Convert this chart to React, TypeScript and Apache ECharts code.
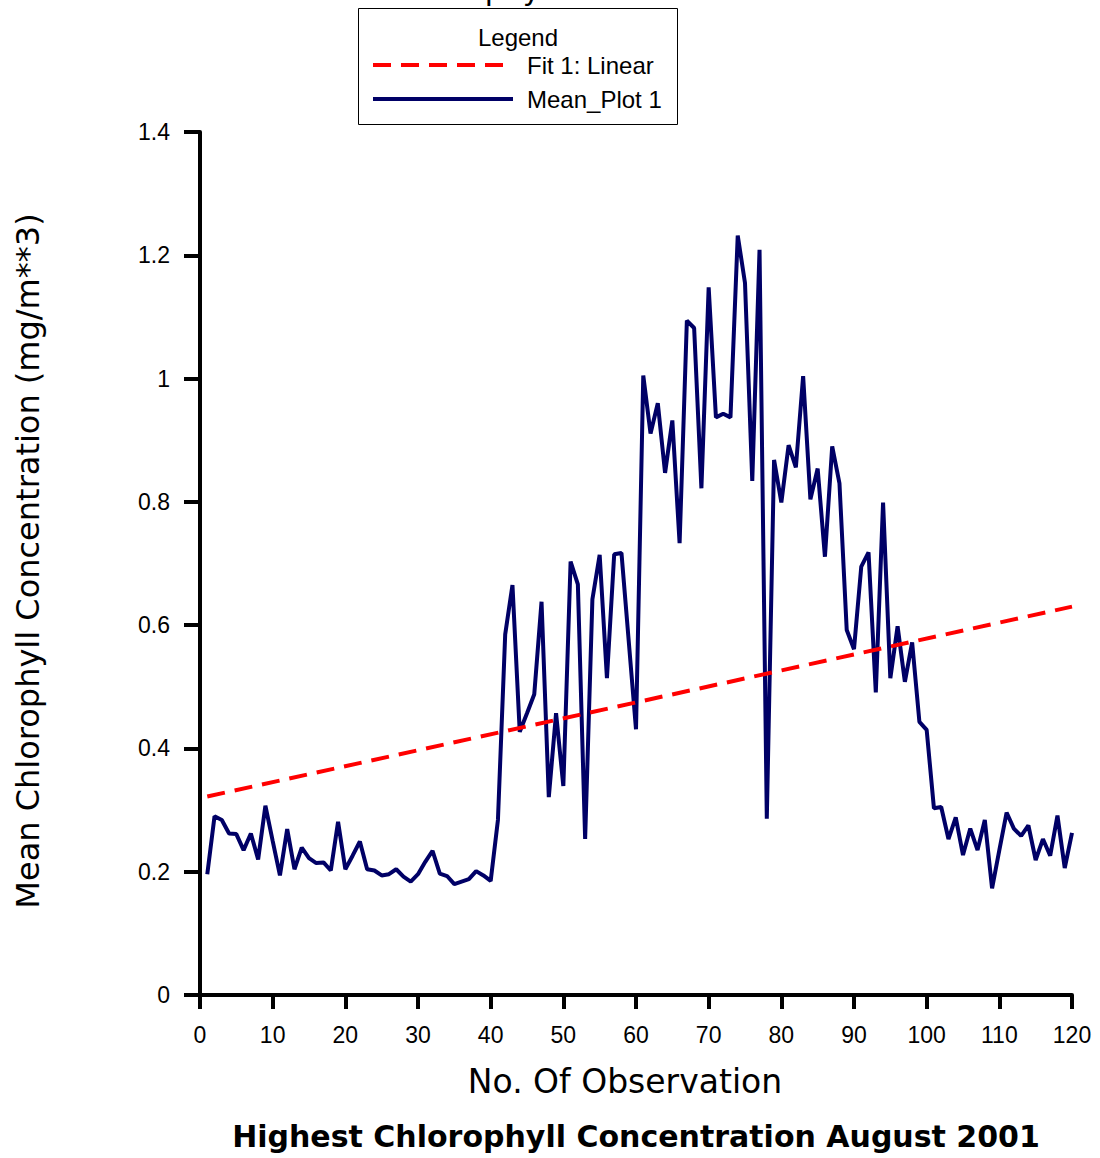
import React, { useEffect, useRef } from "react";
import * as echarts from "echarts";

// Observation numbers (1..120) along the x axis
const observations: number[] = Array.from({ length: 120 }, (_, i) => i + 1);

// Mean chlorophyll concentration (mg/m**3) per observation
const meanChl: number[] = [
  0.196, 0.290, 0.284, 0.262, 0.261, 0.235, 0.262, 0.220, 0.307, 0.250,
  0.194, 0.269, 0.204, 0.239, 0.222, 0.214, 0.215, 0.202, 0.281, 0.204,
  0.226, 0.249, 0.204, 0.202, 0.194, 0.196, 0.204, 0.192, 0.184, 0.196,
  0.216, 0.234, 0.197, 0.193, 0.180, 0.184, 0.188, 0.201, 0.194, 0.185,
  0.284, 0.585, 0.665, 0.427, 0.457, 0.488, 0.638, 0.321, 0.457, 0.339,
  0.703, 0.666, 0.253, 0.642, 0.714, 0.514, 0.715, 0.717, 0.574, 0.431,
  1.005, 0.911, 0.960, 0.847, 0.932, 0.733, 1.094, 1.082, 0.822, 1.148,
  0.937, 0.943, 0.937, 1.232, 1.155, 0.834, 1.209, 0.286, 0.868, 0.799,
  0.892, 0.856, 1.004, 0.804, 0.854, 0.711, 0.890, 0.830, 0.592, 0.561,
  0.695, 0.718, 0.491, 0.799, 0.514, 0.598, 0.508, 0.572, 0.443, 0.430,
  0.303, 0.305, 0.253, 0.288, 0.227, 0.270, 0.235, 0.284, 0.173, 0.235,
  0.296, 0.270, 0.258, 0.275, 0.219, 0.253, 0.226, 0.291, 0.206, 0.263,
];

// Linear fit end points
const fitX: number[] = [1, 120];
const fitY: number[] = [0.322, 0.630];

const legendTitle = "Legend";
const fitName = "Fit 1: Linear";
const meanName = "Mean_Plot 1";
const xTitle = "No. Of Observation";
const yTitle = "Mean Chlorophyll Concentration (mg/m**3)";
const caption = "Highest Chlorophyll Concentration August 2001";
const topTitle = "Chlorophyll";

const NAVY = "#000066";
const RED = "#ff0000";
const SANS = "'Liberation Sans', Arial, sans-serif";
const TITLE_FONT = "'DejaVu Sans', Verdana, sans-serif";

export default function App() {
  const ref = useRef<HTMLDivElement>(null);

  useEffect(() => {
    if (!ref.current) return;
    const chart = echarts.init(ref.current, null, { renderer: "svg" });

    const axisCommon = {
      axisLine: { show: true, onZero: false, lineStyle: { color: "#000", width: 4 } },
      axisTick: { show: true, inside: false, lineStyle: { color: "#000", width: 4 } },
      splitLine: { show: false },
    };

    chart.setOption({
      animation: false,
      backgroundColor: "#fff",
      grid: { left: 200, top: 132, width: 872, height: 863 },
      xAxis: {
        type: "value",
        min: 0,
        max: 120,
        interval: 10,
        ...axisCommon,
        axisTick: { ...axisCommon.axisTick, length: 14 },
        axisLabel: { margin: 28, fontSize: 23, color: "#000", fontFamily: SANS },
      },
      yAxis: {
        type: "value",
        min: 0,
        max: 1.4,
        interval: 0.2,
        ...axisCommon,
        axisTick: { ...axisCommon.axisTick, length: 16 },
        axisLabel: { margin: 30, fontSize: 23, color: "#000", fontFamily: SANS },
      },
      series: [
        {
          name: meanName,
          type: "line",
          data: observations.map((x, i) => [x, meanChl[i]]),
          showSymbol: false,
          lineStyle: { color: NAVY, width: 4 },
          z: 2,
        },
        {
          name: fitName,
          type: "line",
          data: fitX.map((x, i) => [x, fitY[i]]),
          showSymbol: false,
          lineStyle: { color: RED, width: 4, type: [18, 10] },
          z: 3,
        },
      ],
      graphic: [
        {
          type: "text",
          x: 388,
          y: -11,
          style: {
            text: topTitle,
            fontSize: 30,
            fontFamily: TITLE_FONT,
            fill: "#000",
            align: "left",
            verticalAlign: "middle",
          },
        },
        {
          type: "rect",
          shape: { x: 358.5, y: 8.5, width: 319, height: 116 },
          style: { fill: "#fff", stroke: "#000", lineWidth: 1 },
        },
        {
          type: "text",
          x: 518,
          y: 37,
          style: {
            text: legendTitle,
            fontSize: 24,
            fontFamily: SANS,
            fill: "#000",
            align: "center",
            verticalAlign: "middle",
          },
        },
        {
          type: "line",
          shape: { x1: 373, y1: 65, x2: 507, y2: 65 },
          style: { stroke: RED, lineWidth: 4, lineDash: [18, 10] },
        },
        {
          type: "text",
          x: 527,
          y: 65,
          style: {
            text: fitName,
            fontSize: 24,
            fontFamily: SANS,
            fill: "#000",
            align: "left",
            verticalAlign: "middle",
          },
        },
        {
          type: "line",
          shape: { x1: 373, y1: 99, x2: 513, y2: 99 },
          style: { stroke: NAVY, lineWidth: 4 },
        },
        {
          type: "text",
          x: 527,
          y: 99,
          style: {
            text: meanName,
            fontSize: 24,
            fontFamily: SANS,
            fill: "#000",
            align: "left",
            verticalAlign: "middle",
          },
        },
        {
          type: "text",
          x: 28,
          y: 561,
          rotation: Math.PI / 2,
          style: {
            text: yTitle,
            fontSize: 32,
            fontFamily: TITLE_FONT,
            fill: "#000",
            align: "center",
            verticalAlign: "middle",
          },
        },
        {
          type: "text",
          x: 625,
          y: 1081,
          style: {
            text: xTitle,
            fontSize: 33,
            fontFamily: TITLE_FONT,
            fill: "#000",
            align: "center",
            verticalAlign: "middle",
          },
        },
        {
          type: "text",
          x: 636,
          y: 1136,
          style: {
            text: caption,
            fontSize: 30,
            fontWeight: "bold",
            fontFamily: TITLE_FONT,
            fill: "#000",
            align: "center",
            verticalAlign: "middle",
          },
        },
      ],
    });

    return () => chart.dispose();
  }, []);

  return (
    <div
      ref={ref}
      style={{ position: "absolute", left: 0, top: 0, width: 1100, height: 1158 }}
    />
  );
}
